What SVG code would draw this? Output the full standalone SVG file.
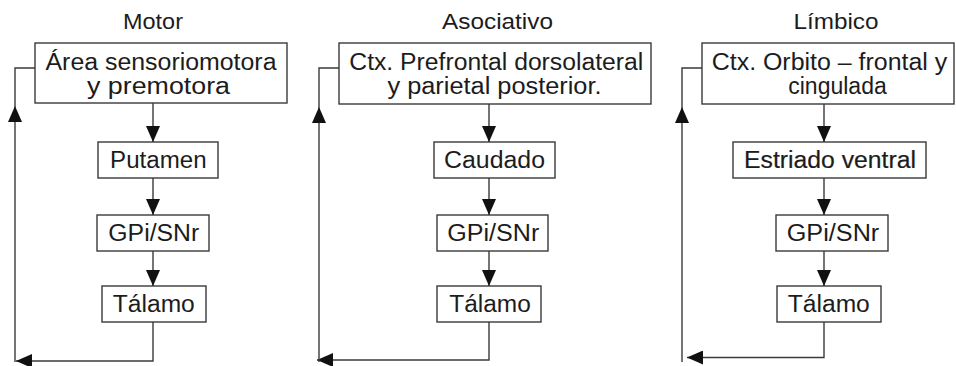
<svg xmlns="http://www.w3.org/2000/svg" width="956" height="366" viewBox="0 0 956 366">
  <style>
    .bg { fill: #ffffff; }
    .box { fill: #ffffff; stroke: #3a3a3a; stroke-width: 1.4; }
    .t { font-family: "Liberation Sans", Arial, sans-serif; font-size: 23px; fill: #1c1c1c; text-anchor: middle; }
    .title { font-family: "Liberation Sans", Arial, sans-serif; font-size: 22px; fill: #1c1c1c; text-anchor: middle; }
    .bold { stroke: #1c1c1c; stroke-width: 0.2; }
    .ln { fill: none; stroke: #3a3a3a; stroke-width: 1.4; }
    .arr { marker-end: url(#ah); }
  </style>
  <defs>
    <marker id="ah" markerUnits="userSpaceOnUse" markerWidth="16" markerHeight="14" refX="16" refY="7" orient="auto">
      <path d="M0,0 L16,7 L0,14 Z" fill="#111111"/>
    </marker>
  </defs>
  <rect class="bg" x="0" y="0" width="956" height="366"/>

  <!-- Titles -->
  <text class="title" x="153" y="29" textLength="60" lengthAdjust="spacingAndGlyphs">Motor</text>
  <text class="title" x="497.5" y="29" textLength="111" lengthAdjust="spacingAndGlyphs">Asociativo</text>
  <text class="title" x="836" y="29" textLength="85" lengthAdjust="spacingAndGlyphs">Límbico</text>

  <!-- Motor column -->
  <g id="motor-cortex">
    <rect class="box" x="35" y="43" width="252" height="60"/>
    <text class="t" x="161" y="69.5" textLength="231" lengthAdjust="spacingAndGlyphs">Área sensoriomotora</text>
    <text class="t" x="158.5" y="93.5" textLength="143" lengthAdjust="spacingAndGlyphs">y premotora</text>
  </g>
  <g id="motor-putamen">
    <rect class="box" x="98" y="142" width="120" height="36"/>
    <text class="t" x="158.3" y="168" textLength="96.5" lengthAdjust="spacingAndGlyphs">Putamen</text>
  </g>
  <g id="motor-gpi">
    <rect class="box" x="97" y="215" width="112" height="36"/>
    <text class="t" x="153.8" y="241" textLength="91" lengthAdjust="spacingAndGlyphs">GPi/SNr</text>
  </g>
  <g id="motor-talamo">
    <rect class="box" x="102" y="286" width="104" height="36"/>
    <text class="t" x="153.8" y="312" textLength="82" lengthAdjust="spacingAndGlyphs">Tálamo</text>
  </g>

  <!-- Asociativo column -->
  <g id="asoc-cortex">
    <rect class="box" x="339" y="43" width="312" height="61"/>
    <text class="t" x="496.3" y="70" textLength="294" lengthAdjust="spacingAndGlyphs">Ctx. Prefrontal dorsolateral</text>
    <text class="t" x="494.5" y="94" textLength="214" lengthAdjust="spacingAndGlyphs">y parietal posterior.</text>
  </g>
  <g id="asoc-caudado">
    <rect class="box" x="434" y="142" width="121" height="36"/>
    <text class="t" x="494.5" y="168" textLength="101" lengthAdjust="spacingAndGlyphs">Caudado</text>
  </g>
  <g id="asoc-gpi">
    <rect class="box" x="437" y="215" width="111" height="36"/>
    <text class="t" x="493.3" y="241" textLength="92" lengthAdjust="spacingAndGlyphs">GPi/SNr</text>
  </g>
  <g id="asoc-talamo">
    <rect class="box" x="437" y="286" width="104" height="36"/>
    <text class="t" x="490" y="312" textLength="81.5" lengthAdjust="spacingAndGlyphs">Tálamo</text>
  </g>

  <!-- Límbico column -->
  <g id="limb-cortex">
    <rect class="box" x="702" y="43" width="252" height="61"/>
    <text class="t" x="829.5" y="70" textLength="235.5" lengthAdjust="spacingAndGlyphs">Ctx. Orbito – frontal y</text>
    <text class="t" x="837.5" y="94" textLength="98.5" lengthAdjust="spacingAndGlyphs">cingulada</text>
  </g>
  <g id="limb-estriado">
    <rect class="box" x="733" y="142" width="193" height="36"/>
    <text class="t bold" x="830" y="168" textLength="172" lengthAdjust="spacingAndGlyphs">Estriado ventral</text>
  </g>
  <g id="limb-gpi">
    <rect class="box" x="776" y="215" width="112" height="36"/>
    <text class="t" x="833" y="241" textLength="92.5" lengthAdjust="spacingAndGlyphs">GPi/SNr</text>
  </g>
  <g id="limb-talamo">
    <rect class="box" x="777" y="286" width="104" height="36"/>
    <text class="t" x="828.8" y="312" textLength="82" lengthAdjust="spacingAndGlyphs">Tálamo</text>
  </g>

  <!-- Connectors -->
  <g id="connectors">
    <!-- Motor -->
    <path class="ln arr" d="M153,103 L153,142"/>
    <path class="ln arr" d="M153,178 L153,215"/>
    <path class="ln arr" d="M153,251 L153,286"/>
    <path class="ln arr" d="M153,322 L153,361 L16,361"/>
    <path class="ln arr" d="M15,362 L15,106"/>
    <path class="ln" d="M15,106 L15,68 L35,68"/>

    <!-- Asociativo -->
    <path class="ln arr" d="M489,104 L489,142"/>
    <path class="ln arr" d="M489,178 L489,215"/>
    <path class="ln arr" d="M489,251 L489,286"/>
    <path class="ln arr" d="M489,322 L489,360 L317,360"/>
    <path class="ln arr" d="M319,362 L319,107"/>
    <path class="ln" d="M319,107 L319,68 L339,68"/>

    <!-- Límbico -->
    <path class="ln arr" d="M824,104 L824,142"/>
    <path class="ln arr" d="M824,178 L824,215"/>
    <path class="ln arr" d="M824,251 L824,286"/>
    <path class="ln arr" d="M824,322 L824,357.5 L687,357.5"/>
    <path class="ln arr" d="M682,362 L682,107"/>
    <path class="ln" d="M682,107 L682,68 L702,68"/>
  </g>
</svg>
